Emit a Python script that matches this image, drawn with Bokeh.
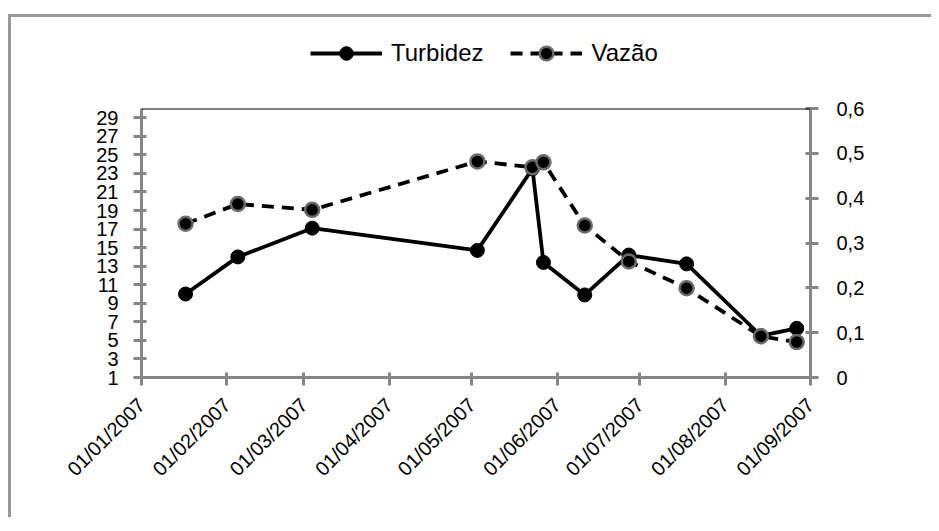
from datetime import datetime
from bokeh.plotting import figure
from bokeh.layouts import column
from bokeh.models import (ColumnDataSource, Range1d, LinearAxis, FixedTicker,
                          DatetimeTickFormatter, CustomJSTickFormatter, Legend,
                          LegendItem, Span)
from bokeh.embed import file_html
from bokeh.resources import INLINE
import math

# ---- data ----
dates = ["2007-01-17", "2007-02-05", "2007-03-04", "2007-05-03", "2007-05-23",
         "2007-05-27", "2007-06-11", "2007-06-27", "2007-07-18", "2007-08-14",
         "2007-08-27"]
turbidez = [10.0, 14.0, 17.1, 14.7, 23.5, 13.4, 9.9, 14.2, 13.25, 5.5, 6.3]
vazao = [0.343, 0.387, 0.374, 0.482, 0.469, 0.480, 0.339, 0.259, 0.199, 0.092, 0.079]
month_ticks = ["2007-01-01", "2007-02-01", "2007-03-01", "2007-04-01", "2007-05-01",
               "2007-06-01", "2007-07-01", "2007-08-01", "2007-09-01"]
left_ticks = [1, 3, 5, 7, 9, 11, 13, 15, 17, 19, 21, 23, 25, 27, 29]
right_ticks = [0, 0.1, 0.2, 0.3, 0.4, 0.5, 0.6]
series_names = ["Turbidez", "Vazão"]

def ms(s):
    d = datetime.strptime(s, "%Y-%m-%d")
    return (d - datetime(1970, 1, 1)).total_seconds() * 1000.0

x = [ms(d) for d in dates]
xt = [ms(d) for d in month_ticks]

src = ColumnDataSource(dict(x=x, t=turbidez, v=vazao))

FONT = "Liberation Sans"
AX = "#868686"
T_LINE = dict(line_color="black", line_width=3.8)
T_MARK = dict(size=14, fill_color="black", line_color="black")
V_LINE = dict(line_color="black", line_width=3.8, line_dash="12 8")
V_MARK = dict(size=14, fill_color="black", line_color="#6a6a6a", line_width=2.5)

# ---------------- legend strip (series drawn out of its visible range) ----------------
lf = figure(width=920, height=80, output_backend="svg", toolbar_location=None,
            x_range=Range1d(0, 1), y_range=Range1d(0, 1),
            min_border=0, x_axis_location=None, y_axis_location=None)
lf.outline_line_color = None
lf.xgrid.visible = False
lf.ygrid.visible = False
el1 = lf.line("x", "t", source=src, **T_LINE)
es1 = lf.scatter("x", "t", source=src, **T_MARK)
el2 = lf.line("x", "v", source=src, **V_LINE)
es2 = lf.scatter("x", "v", source=src, **V_MARK)
legend = Legend(items=[LegendItem(label=series_names[0], renderers=[el1, es1]),
                       LegendItem(label=series_names[1], renderers=[el2, es2])],
                location=(169, 27), orientation="horizontal",
                glyph_width=72, glyph_height=34, label_height=34,
                label_text_font=FONT, label_text_font_size="24px",
                label_text_color="black", padding=0, margin=0, spacing=27,
                label_standoff=9, border_line_color=None, background_fill_alpha=0)
lf.add_layout(legend, "center")

# ---------------- main chart ----------------
p = figure(frame_width=669, frame_height=269, output_backend="svg",
           toolbar_location=None, x_axis_type="datetime",
           x_range=Range1d(xt[0], xt[-1]), y_range=Range1d(1, 30),
           min_border_left=130, min_border_right=121, min_border_top=11,
           min_border_bottom=140)
p.outline_line_color = None
p.xgrid.visible = False
p.ygrid.visible = False
p.extra_y_ranges = {"q": Range1d(0, 0.6)}

def style_axis(ax, standoff):
    ax.axis_line_color = AX
    ax.axis_line_width = 3
    ax.major_tick_line_color = AX
    ax.major_tick_line_width = 3
    ax.major_tick_in = 5
    ax.major_tick_out = 8
    ax.minor_tick_line_color = None
    ax.major_label_text_font = FONT
    ax.major_label_text_font_size = "20px"
    ax.major_label_text_color = "black"
    ax.major_label_standoff = standoff

xa = p.xaxis[0]
xa.ticker = FixedTicker(ticks=xt)
xa.formatter = DatetimeTickFormatter(days="%d/%m/%Y", months="%d/%m/%Y",
                                     years="%d/%m/%Y")
style_axis(xa, 16)
xa.major_label_orientation = math.pi / 4

ya = p.yaxis[0]
ya.ticker = FixedTicker(ticks=left_ticks)
style_axis(ya, 15)

ra = LinearAxis(y_range_name="q", ticker=FixedTicker(ticks=right_ticks),
                formatter=CustomJSTickFormatter(
                    code='return tick == 0 ? "0" : tick.toFixed(1).replace(".", ",");'))
style_axis(ra, 18)
p.add_layout(ra, "right")

p.add_layout(Span(location=30, dimension="width", line_color="black", line_width=2))

p.line("x", "t", source=src, **T_LINE)
p.scatter("x", "t", source=src, **T_MARK)
p.line("x", "v", source=src, y_range_name="q", **V_LINE)
p.scatter("x", "v", source=src, y_range_name="q", **V_MARK)

layout = column(lf, p, spacing=0)
layout.styles = {"border-top": "3px solid #999999", "border-left": "3px solid #999999",
                 "margin-top": "14px", "margin-left": "8px"}

open("out.html", "w").write(file_html(layout, INLINE))
